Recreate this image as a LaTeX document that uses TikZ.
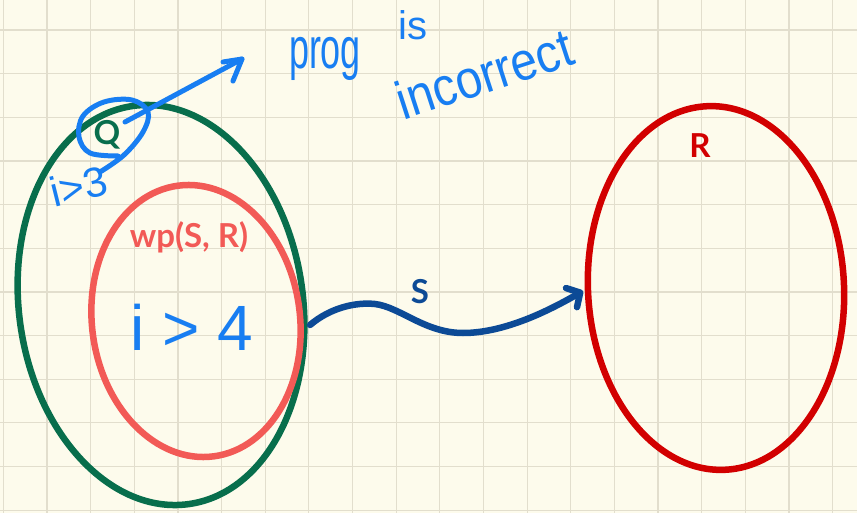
\documentclass[tikz,border=0pt]{standalone}
\usepackage{fontspec}
\setmainfont{Liberation Sans}
\newfontfamily\labfont{Lato}
\newfontfamily\handfont{Liberation Sans}
\usetikzlibrary{shapes.geometric,arrows.meta}
\definecolor{paper}{RGB}{253,251,236}
\definecolor{gridc}{RGB}{226,222,205}
\definecolor{qgreen}{RGB}{8,110,76}
\definecolor{wpred}{RGB}{242,90,86}
\definecolor{rred}{RGB}{210,0,0}
\definecolor{sblue}{RGB}{12,74,150}
\definecolor{hblue}{RGB}{24,126,242}
\tikzset{
  gridline/.style={draw=gridc,line width=1.2pt},
  setoval/.style={ellipse,draw=#1,line width=6.5pt,inner sep=0pt},
  setlabel/.style={font=\labfont\bfseries\fontsize{33}{33}\selectfont,text=#1,inner sep=0pt},
  hand/.style={draw=hblue,line width=5pt,line cap=round,line join=round},
  handtext/.style={text=hblue,inner sep=0pt},
}
\begin{document}
\begin{tikzpicture}[x=1pt,y=-1pt]
\fill[paper] (0,0) rectangle (857,513);
\useasboundingbox (0,0) rectangle (857,513);
\foreach \i in {0,...,19} \draw[gridline] ({3.3+43.65*\i},0) -- ++(0,513);
\foreach \j in {0,...,11} \draw[gridline] (0,{30+43.65*\j}) -- ++(857,0);
% sets
\node[setoval=qgreen,minimum width=284pt,minimum height=402pt,rotate=8] (Q) at (161,305) {};
\node[setoval=wpred,minimum width=208pt,minimum height=273pt,rotate=7.5] (WP) at (196,321) {};
\node[setoval=rred,minimum width=256pt,minimum height=364pt,rotate=3] (R) at (716,288) {};
% labels
\node[setlabel=qgreen] (Qlab) at (107,135) {Q};
\node[setlabel=wpred] (WPlab) at (189,237) {wp(S, R)};
\node[setlabel=rred] (Rlab) at (700,146) {R};
\node[setlabel=sblue] (Slab) at (420,292) {S};
% S connector
\coordinate (s0) at (310,325);
\coordinate (s1) at (583,291);
\draw[draw=sblue,line width=6.5pt,line cap=round,
  -{Straight Barb[round,length=10pt,width=22pt]}]
  (s0) .. controls (330,308) and (355,302) .. (375,304)
  .. controls (400,307) and (425,333) .. (463,333)
  .. controls (505,333) and (550,310) .. (s1);
% handwritten annotations
\draw[hand] plot[smooth,tension=0.6] coordinates {(100,172) (124,155) (143,132) (148,112) (132,100) (104,102) (83,116) (79,137) (90,153) (118,156)};
\coordinate (a0) at (125,122);
\coordinate (a1) at (242,59);
\draw[hand] (a0) -- (a1);
\draw[hand] (223,62) -- (a1) -- (233,81);
\node[handtext,font=\handfont\fontsize{42}{42}\selectfont,rotate=14] (i3) at (79,186) {i>3};
\node[handtext,font=\handfont\fontsize{64}{64}\selectfont] (i4) at (192,327) {i > 4};
\node[handtext,font=\handfont\fontsize{58}{58}\selectfont,anchor=base] (prog) at (325,69) {\scalebox{0.62}[1]{prog}};
\node[handtext,font=\handfont\fontsize{40}{40}\selectfont,anchor=base] (is) at (413,40) {is};
\node[handtext,font=\handfont\fontsize{54}{54}\selectfont,rotate=18,anchor=base] (incor) at (490,92) {\scalebox{0.88}[1]{incorrect}};
\end{tikzpicture}
\end{document}
